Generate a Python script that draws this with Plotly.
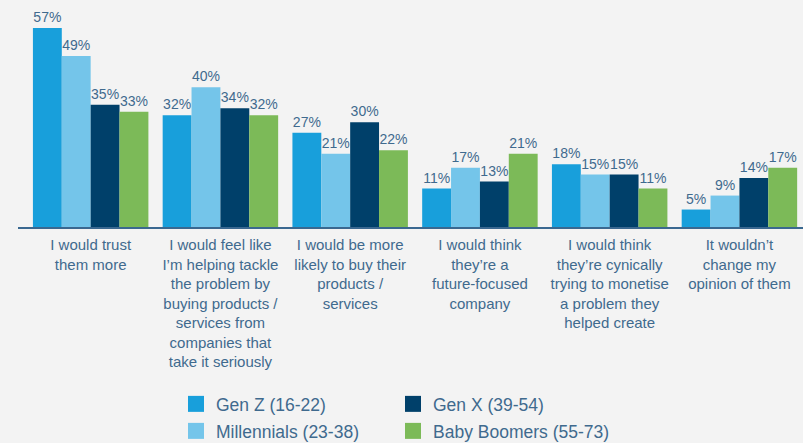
import plotly.graph_objects as go

# Survey responses by generation (% of respondents)
categories = [
    "I would trust<br>them more",
    "I would feel like<br>I’m helping tackle<br>the problem by<br>buying products /<br>services from<br>companies that<br>take it seriously",
    "I would be more<br>likely to buy their<br>products /<br>services",
    "I would think<br>they’re a<br>future-focused<br>company",
    "I would think<br>they’re cynically<br>trying to monetise<br>a problem they<br>helped create",
    "It wouldn’t<br>change my<br>opinion of them",
]
series_names = ["Gen Z (16-22)", "Millennials (23-38)", "Gen X (39-54)", "Baby Boomers (55-73)"]
gen_z = [57, 32, 27, 11, 18, 5]
millennials = [49, 40, 21, 17, 15, 9]
gen_x = [35, 34, 30, 13, 15, 14]
boomers = [33, 32, 22, 21, 11, 17]

series_values = [gen_z, millennials, gen_x, boomers]
colors = ["#189fdb", "#74c5ea", "#00406a", "#7cba58"]

TEXT = "#3f6a8e"
FONT = "Liberation Sans, Arial, Helvetica, sans-serif"
x_idx = list(range(len(categories)))

W, H = 803, 443
L, T = 18, 0
plot_h = 227
B = H - T - plot_h

# One legend box per entry: two columns, two rows (centres in pixels)
legend_ids = ["legend", "legend3", "legend2", "legend4"]
legend_pos = [(176, 404), (176, 431), (393, 404), (393, 431)]


def paper_x(px):
    return (px - L) / (W - L)


fig = go.Figure()
for name, vals, col in zip(series_names, series_values, colors):
    fig.add_trace(go.Bar(
        x=x_idx, y=vals, name=name, marker=dict(color=col, line=dict(width=0)),
        text=[f"{v}%" for v in vals], textposition="outside",
        textfont=dict(size=14, color=TEXT, family=FONT),
        constraintext="none", cliponaxis=False, showlegend=False,
    ))

for name, col, lg in zip(series_names, colors, legend_ids):
    fig.add_trace(go.Scatter(
        x=[None], y=[None], mode="markers", name=name, legend=lg,
        marker=dict(symbol="square", size=16, color=col), showlegend=True,
    ))

legend_layouts = {}
for lg, (px, py) in zip(legend_ids, legend_pos):
    legend_layouts[lg] = dict(
        xref="paper", yref="container",
        x=paper_x(px), y=1 - py / H, xanchor="left", yanchor="middle",
        orientation="v", font=dict(size=17.5, color=TEXT, family=FONT),
        bgcolor="rgba(0,0,0,0)", itemwidth=30,
    )

fig.update_layout(
    width=W, height=H,
    margin=dict(l=L, r=0, t=T, b=B),
    paper_bgcolor="#f3f3f3", plot_bgcolor="#f3f3f3",
    barmode="group", bargap=0.11, bargroupgap=0,
    font=dict(family=FONT, color=TEXT),
    xaxis=dict(
        range=[-0.56, 5.49], tickmode="array", tickvals=x_idx, ticktext=categories,
        tickfont=dict(size=15, color=TEXT, family=FONT), tickangle=0,
        ticklabelstandoff=3,
        showline=True, linecolor="#3a6890", linewidth=2, ticks="",
        showgrid=False, zeroline=False, fixedrange=True, automargin=False,
    ),
    yaxis=dict(range=[0, 65], visible=False, showgrid=False, zeroline=False,
               automargin=False),
    **legend_layouts,
)

fig.write_html("out.html")
